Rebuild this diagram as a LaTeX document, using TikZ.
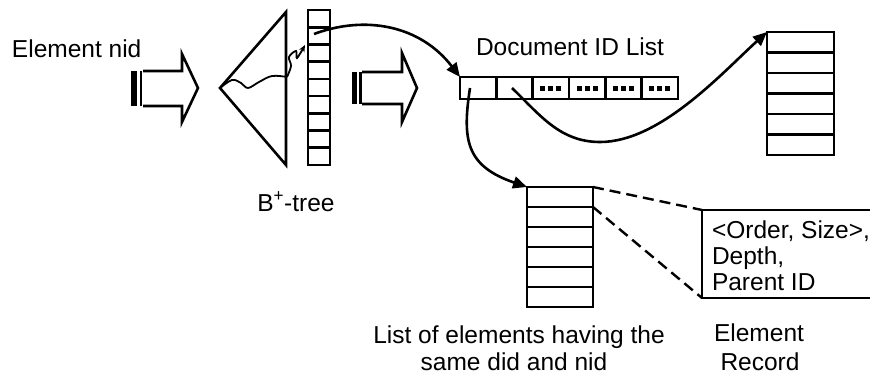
\documentclass[tikz,border=0pt]{standalone}
\usepackage{fontspec}
\setmainfont{Liberation Sans}
\usetikzlibrary{arrows.meta,calc}
\begin{document}
\begin{tikzpicture}[x=1pt,y=-1pt,line width=2.6pt,
  lbl/.style={font=\fontsize{24.5}{27}\selectfont,inner sep=0pt,outer sep=0pt},
  listbox/.style={draw,inner sep=0pt,outer sep=0pt},
  headarrow/.style={-{Triangle[length=14pt,width=12pt]}},
  curve/.style={line width=2.6pt,headarrow},
  dashline/.style={line width=2.4pt,dash pattern=on 11pt off 6pt}]
\clip (0,0) rectangle (870,375);
\fill[white] (0,0) rectangle (870,375);

% labels
\node[lbl,anchor=base west] (lnid) at (12,57) {Element nid};
\node[lbl,anchor=base] (lbt) at (296,211) {B\textsuperscript{+}-tree};
\node[lbl,anchor=base west] (ldoc) at (476,55) {Document ID List};
\node[lbl,anchor=base] (llist1) at (519,343) {List of elements having the};
\node[lbl,anchor=base] (llist2) at (514,370) {same did and nid};
\node[lbl,anchor=base] (lrec1) at (759,341) {Element};
\node[lbl,anchor=base] (lrec2) at (760,370) {Record};

% hollow arrow 1
\fill (131,71) rectangle (137,106);
\draw[line width=2.8pt] (141,71) -- (141,106);
\draw (143,71) -- (182,71) -- (182,54) -- (198,88) -- (182,122) -- (182,106) -- (143,106);
% hollow arrow 2
\fill (352,72) rectangle (357,104);
\draw[line width=2.8pt] (360.5,72) -- (360.5,104);
\draw (362,72) -- (402,72) -- (402,53) -- (417,88) -- (402,122) -- (402,104) -- (362,104);

% B+ tree triangle
\draw[line join=miter] (220,88) -- (286,12) -- (286,165) -- cycle;
\draw[line width=1.8pt] plot[smooth,tension=0.6] coordinates {(220,88) (232,80) (241,83) (248,88) (259,82) (272,76) (287,77)};
\draw[line width=1.8pt,-{Stealth[length=7pt,width=6pt]}] plot[smooth,tension=0.6] coordinates {(287,77) (291,66) (289,57) (296,51) (297,58) (305,45)};

% B+ tree leaf array
\node[listbox,minimum width=22pt,minimum height=155pt] (barr) at (319,87.5) {};
\foreach \i in {1,...,8} \draw (barr.north west) ++(0,\i*17.222) -- ++(22,0);
\coordinate (bcell) at (314,34);

% document ID list
\node[listbox,minimum width=218pt,minimum height=22pt] (dl) at (569,88) {};
\foreach \i in {1,...,5} \draw (dl.north west) ++(\i*36.333,0) -- ++(0,22);
\foreach \c in {2,...,5}
  \foreach \f in {0.28,0.5,0.72}
    \fill ({460+36.333*\c+36.333*\f-2.5},85.5) rectangle ++(5,5);
\coordinate (dcell1) at (470,88);
\coordinate (dcell2) at (512,88);

% lower list
\node[listbox,minimum width=66pt,minimum height=120pt] (ll) at (560,247) {};
\foreach \i in {1,...,5} \draw (ll.north west) ++(0,\i*20) -- ++(66,0);

% right list
\node[listbox,minimum width=67pt,minimum height=123pt] (rl) at (800.5,93.5) {};
\foreach \i in {1,...,5} \draw (rl.north west) ++(0,\i*20.5) -- ++(67,0);

% element record
\node[listbox,minimum width=200pt,minimum height=88pt,anchor=north west] (rec) at (702,210) {};
\node[lbl,anchor=base west] (r1) at (712,238) {<Order, Size>,};
\node[lbl,anchor=base west] (r2) at (712,264) {Depth,};
\node[lbl,anchor=base west] (r3) at (712,290) {Parent ID};

% connectors
\draw[curve] (bcell) .. controls (365,15) and (420,25) .. (dl.north west);
\draw[curve] (dcell1) .. controls (462,140) and (466,166) .. (ll.north west);
\draw[curve] (dcell2) .. controls (540,115) and (560,142) .. (600,142)
   .. controls (660,142) and (722,73) .. (rl.north west);
\draw[dashline] (ll.north east) -- (rec.north west);
\draw[dashline] ($(ll.north east)+(0,20)$) -- (rec.south west);
\end{tikzpicture}
\end{document}
